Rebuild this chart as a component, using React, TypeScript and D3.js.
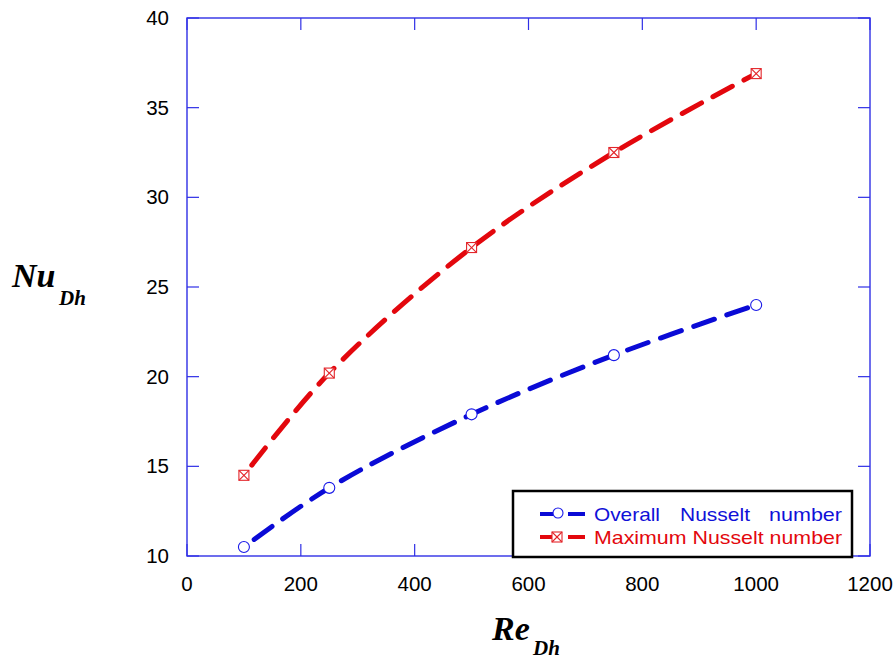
import React from "react";
import * as d3 from "d3";

// Reynolds numbers and the two Nusselt series
const reynolds = [100, 250, 500, 750, 1000];
const overallNu = [10.5, 13.8, 17.9, 21.2, 24.0];
const maximumNu = [14.5, 20.2, 27.2, 32.5, 36.9];

const xTicks = [0, 200, 400, 600, 800, 1000, 1200];
const yTicks = [10, 15, 20, 25, 30, 35, 40];

const W = 894;
const H = 661;
const plot = { left: 187, right: 870, top: 18, bottom: 556 };
const frameColor = "#2f2fe6";
const tickLen = 12;

export default function App() {
  const x = d3.scaleLinear().domain([0, 1200]).range([plot.left, plot.right]);
  const y = d3.scaleLinear().domain([10, 40]).range([plot.bottom, plot.top]);

  const line = d3
    .line<[number, number]>()
    .x((d) => x(d[0]))
    .y((d) => y(d[1]))
    .curve(d3.curveCatmullRom.alpha(0.5));

  const overallPts = reynolds.map((r, i) => [r, overallNu[i]] as [number, number]);
  const maxPts = reynolds.map((r, i) => [r, maximumNu[i]] as [number, number]);

  const tickFont = "Liberation Sans, Arial, sans-serif";
  const titleFont = "Liberation Serif, Times New Roman, serif";

  const circle = (cx: number, cy: number, key: string | number) => (
    <circle key={key} cx={cx} cy={cy} r={5.5} fill="#fff" stroke="#1a1ae8" strokeWidth={1.1} />
  );
  const boxX = (cx: number, cy: number, key: string | number) => {
    const s = 5;
    return (
      <g key={key} stroke="#e3262b" strokeWidth={1.1} fill="none">
        <rect x={cx - s} y={cy - s} width={2 * s} height={2 * s} fill="#fff" />
        <line x1={cx - s} y1={cy - s} x2={cx + s} y2={cy + s} />
        <line x1={cx - s} y1={cy + s} x2={cx + s} y2={cy - s} />
      </g>
    );
  };

  const legendX = 513;
  const legendY = 491;
  const legendW = 339;
  const legendH = 66;
  const row1 = 514;
  const row2 = 537;

  return (
    <svg
      width={W}
      height={H}
      style={{ position: "absolute", left: 0, top: 0, background: "#fff" }}
    >
      {/* frame */}
      <rect
        x={plot.left}
        y={plot.top}
        width={plot.right - plot.left}
        height={plot.bottom - plot.top}
        fill="none"
        stroke={frameColor}
        strokeWidth={1.4}
      />
      {/* inward ticks on all four sides */}
      {xTicks.map((t) => (
        <g key={"xt" + t} stroke={frameColor} strokeWidth={1.2}>
          <line x1={x(t)} x2={x(t)} y1={plot.bottom} y2={plot.bottom - tickLen} />
          <line x1={x(t)} x2={x(t)} y1={plot.top} y2={plot.top + tickLen} />
        </g>
      ))}
      {yTicks.map((t) => (
        <g key={"yt" + t} stroke={frameColor} strokeWidth={1.2}>
          <line x1={plot.left} x2={plot.left + tickLen} y1={y(t)} y2={y(t)} />
          <line x1={plot.right} x2={plot.right - tickLen} y1={y(t)} y2={y(t)} />
        </g>
      ))}
      {/* tick labels */}
      {xTicks.map((t) => (
        <text
          key={"xl" + t}
          x={x(t)}
          y={591}
          textAnchor="middle"
          fontFamily={tickFont}
          fontSize={20.5}
          fill="#000"
        >
          {t}
        </text>
      ))}
      {yTicks.map((t) => (
        <text
          key={"yl" + t}
          x={169}
          y={y(t) + 7}
          textAnchor="end"
          fontFamily={tickFont}
          fontSize={20.5}
          fill="#000"
        >
          {t}
        </text>
      ))}

      {/* series curves */}
      <path
        d={line(maxPts) || ""}
        fill="none"
        stroke="#e3070d"
        strokeWidth={5}
        strokeLinecap="round"
        strokeDasharray="22 13"
        strokeDashoffset={22}
      />
      <path
        d={line(overallPts) || ""}
        fill="none"
        stroke="#0a0ad6"
        strokeWidth={5}
        strokeLinecap="round"
        strokeDasharray="22 13"
        strokeDashoffset={22}
      />
      {/* markers */}
      {maxPts.map((p, i) => boxX(x(p[0]), y(p[1]), "m" + i))}
      {overallPts.map((p, i) => circle(x(p[0]), y(p[1]), "o" + i))}

      {/* legend */}
      <rect
        x={legendX}
        y={legendY}
        width={legendW}
        height={legendH}
        fill="#fff"
        stroke="#000"
        strokeWidth={2.5}
      />
      <g strokeWidth={4} strokeLinecap="butt">
        <line x1={540} x2={555} y1={row1} y2={row1} stroke="#0a0ad6" />
        <line x1={568} x2={585} y1={row1} y2={row1} stroke="#0a0ad6" />
        <line x1={540} x2={555} y1={row2} y2={row2} stroke="#e3070d" />
        <line x1={568} x2={585} y1={row2} y2={row2} stroke="#e3070d" />
      </g>
      <circle cx={558} cy={row1 - 1} r={5} fill="#fff" stroke="#1a1ae8" strokeWidth={1.1} />
      {boxX(557, row2, "legbox")}
      <text fontFamily={tickFont} fontSize={19} fill="#1010d8" y={row1 + 7}>
        <tspan x={594} textLength={66} lengthAdjust="spacingAndGlyphs">Overall</tspan>
        <tspan x={680} textLength={70} lengthAdjust="spacingAndGlyphs">Nusselt</tspan>
        <tspan x={769} textLength={73} lengthAdjust="spacingAndGlyphs">number</tspan>
      </text>
      <text
        fontFamily={tickFont}
        fontSize={19}
        fill="#e3070d"
        x={594}
        y={row2 + 7}
        textLength={248}
        lengthAdjust="spacingAndGlyphs"
      >
        Maximum Nusselt number
      </text>

      {/* axis titles */}
      <text fontFamily={titleFont} fontWeight="bold" fontStyle="italic" fill="#000">
        <tspan x={12} y={287} fontSize={34}>Nu</tspan>
        <tspan x={59} y={305} fontSize={21}>Dh</tspan>
      </text>
      <text fontFamily={titleFont} fontWeight="bold" fontStyle="italic" fill="#000">
        <tspan x={492} y={640} fontSize={34}>Re</tspan>
        <tspan x={533} y={655} fontSize={21}>Dh</tspan>
      </text>
    </svg>
  );
}
